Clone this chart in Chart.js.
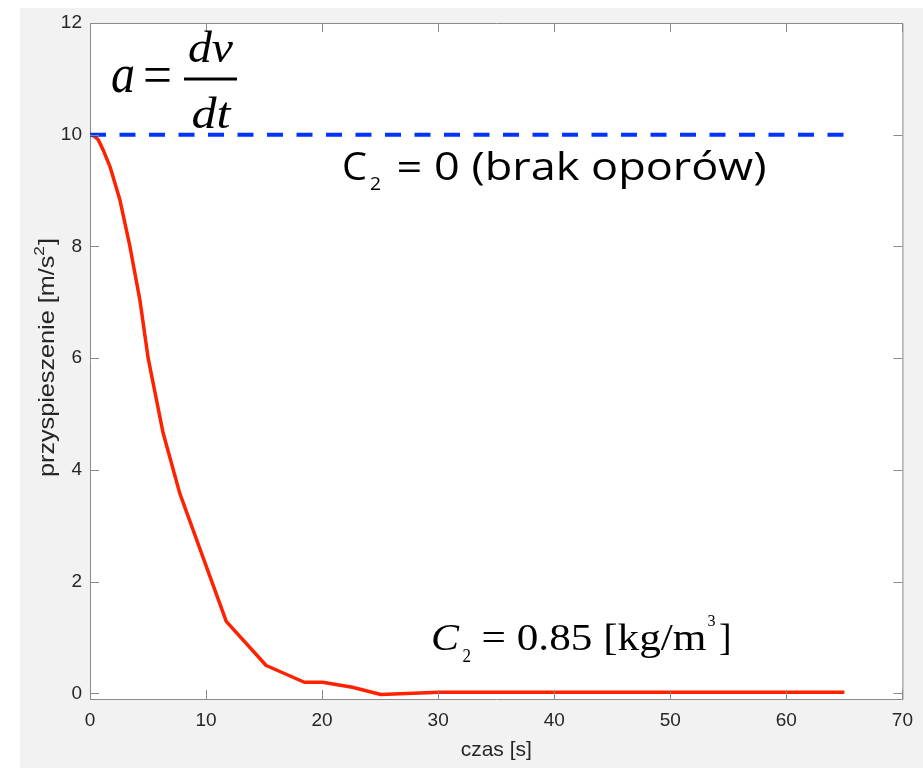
<!DOCTYPE html>
<html>
<head>
<meta charset="utf-8">
<script src="https://cdn.jsdelivr.net/npm/chart.js@4"></script>
<style>
  html, body { margin: 0; padding: 0; background: #ffffff; }
  #wrap { width: 923px; height: 769px; }
</style>
</head>
<body>
<div id="wrap"><canvas id="accChart" width="923" height="769"></canvas></div>
<script>
// ---- data ----
const czas = [0, 0.4, 0.71, 1.15, 1.72, 2.58, 3.44, 4.30, 5.01, 6.3, 7.73, 11.74, 15.18, 18.47, 20.04, 22.6, 25.06, 30.07, 40, 50, 65];
const przyspieszenie = [10, 9.97, 9.91, 9.72, 9.43, 8.83, 8.0, 7.04, 6.0, 4.66, 3.585, 1.29, 0.50, 0.20, 0.20, 0.11, -0.02, 0.02, 0.02, 0.02, 0.02];
const czasBezOporow = [0, 65];
const przyspBezOporow = [10, 10];

const xTicks = [0, 10, 20, 30, 40, 50, 60, 70];
const yTicks = [0, 2, 4, 6, 8, 10, 12];

const AXIS_GRAY = "#8a8a8a";
const TICK_TEXT = "#262626";
const SANS = "'Liberation Sans', Arial, Helvetica, sans-serif";
const SERIF = "'Liberation Serif', 'Times New Roman', serif";
const CALIBRI_LIKE = "'Open Sans', 'Noto Sans', sans-serif";

// draw text squeezed/stretched to a target width
function fitText(ctx, text, x, y, width) {
    const w = ctx.measureText(text).width;
    ctx.save();
    ctx.translate(x, y);
    ctx.scale(width / w, 1);
    ctx.fillText(text, 0, 0);
    ctx.restore();
}

// =======================================================
// BACKGROUND (gray figure, white axes)
// =======================================================
const backgroundPlugin = {
    id: "background",
    beforeDraw(chart) {
        const ctx = chart.ctx;
        const a = chart.chartArea;
        ctx.save();
        ctx.fillStyle = "#ffffff";
        ctx.fillRect(0, 0, chart.width, chart.height);
        ctx.fillStyle = "#f2f2f2";
        ctx.fillRect(20, 8, chart.width - 20, chart.height - 9);
        ctx.fillStyle = "#ffffff";
        ctx.fillRect(a.left, a.top, a.right - a.left, a.bottom - a.top);
        ctx.restore();
    }
};

// =======================================================
// BOX + INWARD TICKS (MATLAB style) + Y LABEL WITH SUPERSCRIPT
// =======================================================
const boxPlugin = {
    id: "box",
    afterDraw(chart) {
        const ctx = chart.ctx;
        const a = chart.chartArea;
        const xs = chart.scales.x;
        const ys = chart.scales.y;
        const len = 9;
        ctx.save();
        ctx.strokeStyle = AXIS_GRAY;
        ctx.lineWidth = 1;
        ctx.beginPath();
        ctx.moveTo(a.left + 0.5, a.top + 0.5);
        ctx.lineTo(a.right + 0.5, a.top + 0.5);
        ctx.lineTo(a.right + 0.5, a.bottom + 0.5);
        xTicks.forEach(v => {
            const px = Math.round(xs.getPixelForValue(v)) + 0.5;
            ctx.moveTo(px, a.bottom);
            ctx.lineTo(px, a.bottom - len);
            ctx.moveTo(px, a.top);
            ctx.lineTo(px, a.top + len);
        });
        yTicks.forEach(v => {
            const py = Math.round(ys.getPixelForValue(v)) + 0.5;
            ctx.moveTo(a.left, py);
            ctx.lineTo(a.left + len, py);
            ctx.moveTo(a.right, py);
            ctx.lineTo(a.right - len, py);
        });
        ctx.stroke();

        // y axis title: przyspieszenie [m/s^2]
        const part1 = "przyspieszenie [m/s";
        const sup = "2";
        const part3 = "]";
        ctx.fillStyle = TICK_TEXT;
        ctx.textBaseline = "alphabetic";
        ctx.textAlign = "left";
        ctx.font = "22px " + SANS;
        const w1 = ctx.measureText(part1).width;
        const w3 = ctx.measureText(part3).width;
        ctx.font = "15px " + SANS;
        const w2 = ctx.measureText(sup).width + 1;
        const total = w1 + w2 + w3;
        const k = 239 / total;
        ctx.translate(53.5, 357.5);
        ctx.rotate(-Math.PI / 2);
        ctx.scale(k, 1);
        const x0 = -total / 2;
        ctx.font = "22px " + SANS;
        ctx.fillText(part1, x0, 0);
        ctx.font = "15px " + SANS;
        ctx.fillText(sup, x0 + w1, -10);
        ctx.font = "22px " + SANS;
        ctx.fillText(part3, x0 + w1 + w2, 0);
        ctx.restore();
    }
};

// =======================================================
// ANNOTATIONS (formula and labels)
// =======================================================
const annotationPlugin = {
    id: "notes",
    afterDraw(chart) {
        const ctx = chart.ctx;
        ctx.save();
        ctx.fillStyle = "#000000";
        ctx.textBaseline = "alphabetic";
        ctx.textAlign = "left";

        // a = dv/dt
        ctx.font = "italic 54px " + SERIF;
        fitText(ctx, "a", 111, 92, 24);
        ctx.font = "54px " + SERIF;
        fitText(ctx, "=", 143, 93, 29);
        ctx.fillRect(184, 77.5, 53, 3);
        ctx.font = "italic 44px " + SERIF;
        fitText(ctx, "dv", 188, 61.5, 45);
        fitText(ctx, "dt", 191.5, 128, 39);

        // C2 = 0 (brak oporów)
        ctx.font = "38px " + CALIBRI_LIKE;
        fitText(ctx, "C", 342, 180, 25);
        ctx.font = "19px " + CALIBRI_LIKE;
        fitText(ctx, "2", 370, 190, 11);
        ctx.font = "38px " + CALIBRI_LIKE;
        fitText(ctx, "= 0 (brak oporów)", 396.5, 180, 370);

        // C2 = 0.85 [kg/m3]
        ctx.font = "italic 38px " + SERIF;
        fitText(ctx, "C", 431, 650, 28);
        ctx.font = "18px " + SERIF;
        fitText(ctx, "2", 462.5, 661.5, 8.5);
        ctx.font = "38px " + SERIF;
        fitText(ctx, "= 0.85 [kg/m", 481.5, 650, 225);
        ctx.font = "16px " + SERIF;
        fitText(ctx, "3", 707.5, 625.5, 8);
        ctx.font = "38px " + SERIF;
        fitText(ctx, "]", 719, 650, 12.5);

        ctx.restore();
    }
};

// =======================================================
// CHART
// =======================================================
const ctx = document.getElementById("accChart").getContext("2d");

new Chart(ctx, {
    type: "line",
    data: {
        datasets: [
            {
                label: "C2 = 0",
                data: czasBezOporow.map((t, i) => ({ x: t, y: przyspBezOporow[i] })),
                borderColor: "#0033ff",
                borderWidth: 4,
                borderDash: [16, 13.5],
                pointRadius: 0,
                tension: 0
            },
            {
                label: "C2 = 0.85",
                data: czas.map((t, i) => ({ x: t, y: przyspieszenie[i] })),
                borderColor: "#ff2200",
                borderWidth: 3.5,
                pointRadius: 0,
                tension: 0,
                borderJoinStyle: "round"
            }
        ]
    },
    options: {
        responsive: false,
        animation: false,
        devicePixelRatio: 1,
        layout: { padding: { left: 0, top: 23, right: 17, bottom: 0 } },
        plugins: {
            legend: { display: false },
            tooltip: { enabled: false }
        },
        scales: {
            x: {
                type: "linear",
                min: 0,
                max: 70,
                afterFit: s => { s.height = 70; },
                afterBuildTicks: s => { s.ticks = xTicks.map(v => ({ value: v })); },
                grid: { display: false, drawTicks: false },
                border: { display: true, color: AXIS_GRAY, width: 1 },
                ticks: {
                    padding: 10,
                    color: TICK_TEXT,
                    maxRotation: 0,
                    font: { family: SANS, size: 19 }
                },
                title: {
                    display: true,
                    text: "czas [s]",
                    color: TICK_TEXT,
                    font: { family: SANS, size: 21 },
                    padding: { top: 0, bottom: 6 }
                }
            },
            y: {
                type: "linear",
                min: -0.1,
                max: 12,
                afterFit: s => { s.width = 90; },
                afterBuildTicks: s => { s.ticks = yTicks.map(v => ({ value: v })); },
                grid: { display: false, drawTicks: false },
                border: { display: true, color: AXIS_GRAY, width: 1 },
                ticks: {
                    padding: 8,
                    color: TICK_TEXT,
                    font: { family: SANS, size: 19 }
                },
                title: { display: false }
            }
        }
    },
    plugins: [backgroundPlugin, boxPlugin, annotationPlugin]
});
</script>
</body>
</html>
